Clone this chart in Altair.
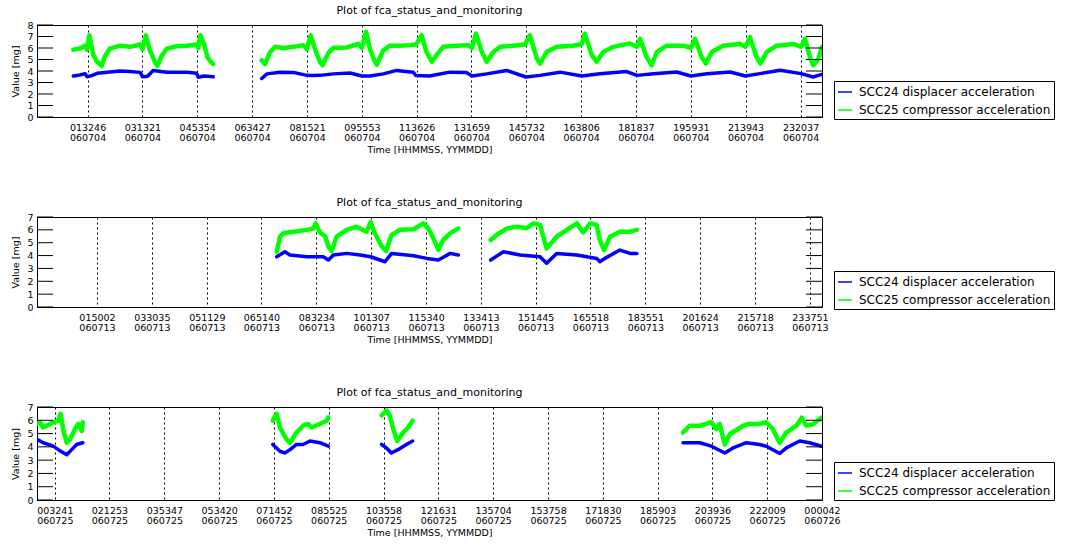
import json
import altair as alt
import pandas as pd

BLUE = "SCC24 displacer acceleration"
GREEN = "SCC25 compressor acceleration"
TITLE = "Plot of fca_status_and_monitoring"
FONT = "DejaVu Sans"

# ---------------- Panel 1 (060704) ----------------
p1_tick_labels = ["013246", "031321", "045354", "063427", "081521", "095553", "113626",
                  "131659", "145732", "163806", "181837", "195931", "213943", "232037"]
p1_tick_dates = ["060704"] * 14
p1_yticks = [0, 1, 2, 3, 4, 5, 6, 7, 8]

# (hour of day, value in mg), one list per continuous segment
p1_green_seg1 = [(1.11, 5.86), (1.31, 5.95), (1.47, 6.2), (1.53, 5.85), (1.60, 7.1), (1.72, 5.4),
                 (1.84, 4.8), (1.98, 4.45), (2.08, 5.3), (2.23, 5.95), (2.54, 6.2), (2.84, 6.1),
                 (3.15, 6.3), (3.23, 5.9), (3.33, 7.1), (3.45, 5.8), (3.61, 4.8), (3.68, 4.45),
                 (3.81, 5.3), (3.97, 5.95), (4.27, 6.15), (4.58, 6.2), (4.88, 6.3), (4.93, 6.0),
                 (5.00, 7.1), (5.11, 6.3), (5.21, 5.2), (5.31, 4.8), (5.39, 4.6)]
p1_green_seg2 = [(6.87, 4.93), (6.97, 4.6), (7.12, 5.6), (7.28, 6.1), (7.53, 6.0), (7.84, 6.1),
                 (8.14, 6.25), (8.25, 5.9), (8.37, 7.1), (8.50, 5.9), (8.65, 4.8), (8.73, 4.5),
                 (8.91, 5.6), (9.06, 6.0), (9.47, 6.05), (9.82, 6.35), (9.93, 6.0), (10.06, 7.4),
                 (10.18, 5.9), (10.33, 4.8), (10.39, 4.55), (10.59, 5.8), (10.79, 6.2), (11.10, 6.2),
                 (11.40, 6.25), (11.59, 6.3), (11.76, 7.1), (11.91, 5.65), (12.07, 4.8), (12.22, 5.4),
                 (12.42, 6.1), (12.83, 6.2), (13.19, 6.25), (13.30, 6.0), (13.42, 7.25), (13.60, 5.65),
                 (13.75, 4.8), (13.95, 5.65), (14.16, 6.1), (14.56, 6.2), (14.92, 6.3), (15.07, 7.1),
                 (15.28, 5.1), (15.38, 4.65), (15.58, 5.65), (15.89, 6.1), (16.40, 6.2), (16.66, 6.35),
                 (16.75, 7.25), (16.96, 5.4), (17.11, 4.8), (17.31, 5.65), (17.62, 6.1), (18.13, 6.4),
                 (18.34, 6.1), (18.44, 6.8), (18.64, 5.2), (18.79, 4.5), (18.95, 5.65), (19.25, 6.2),
                 (19.76, 6.2), (19.99, 6.0), (20.12, 6.8), (20.32, 5.2), (20.45, 4.65), (20.63, 5.65),
                 (20.98, 6.2), (21.49, 6.35), (21.66, 6.1), (21.80, 6.95), (22.00, 5.2), (22.12, 4.65),
                 (22.31, 5.65), (22.61, 6.2), (23.12, 6.35), (23.36, 6.1), (23.48, 6.8), (23.63, 5.2),
                 (23.73, 4.5), (23.88, 5.0), (24.0, 6.1)]
p1_blue_seg1 = [(1.11, 3.57), (1.31, 3.65), (1.47, 3.77), (1.53, 3.5), (1.67, 3.6), (1.84, 3.8),
                (2.23, 3.91), (2.54, 4.0), (2.84, 3.95), (3.15, 3.88), (3.23, 3.5), (3.38, 3.55),
                (3.55, 4.05), (3.97, 3.9), (4.58, 3.9), (4.88, 3.8), (4.93, 3.45), (5.11, 3.57),
                (5.39, 3.5)]
p1_blue_seg2 = [(6.87, 3.35), (7.03, 3.75), (7.43, 3.9), (7.84, 3.88), (8.25, 3.62), (8.41, 3.6),
                (8.65, 3.62), (9.06, 3.75), (9.57, 3.82), (9.93, 3.57), (10.18, 3.57), (10.59, 3.75),
                (10.99, 4.05), (11.50, 3.9), (11.59, 3.6), (12.0, 3.57), (12.62, 3.9), (13.13, 3.86),
                (13.30, 3.57), (13.75, 3.75), (14.36, 4.05), (14.95, 3.48), (15.38, 3.62), (15.99, 3.9),
                (16.66, 3.57), (17.21, 3.77), (18.03, 3.95), (18.34, 3.62), (18.85, 3.77), (19.56, 3.91),
                (19.99, 3.57), (20.48, 3.77), (21.19, 3.91), (21.66, 3.57), (22.10, 3.77), (22.72, 4.06),
                (23.36, 3.77), (23.73, 3.48), (23.88, 3.62), (24.0, 3.7)]

# ---------------- Panel 2 (060713) ----------------
p2_tick_labels = ["015002", "033035", "051129", "065140", "083234", "101307", "115340",
                  "133413", "151445", "165518", "183551", "201624", "215718", "233751"]
p2_tick_dates = ["060713"] * 14
p2_yticks = [0, 1, 2, 3, 4, 5, 6, 7]

p2_green_seg1 = [(7.33, 4.3), (7.43, 5.47), (7.53, 5.73), (7.84, 5.86), (8.25, 6.0), (8.45, 6.1),
                 (8.52, 6.5), (8.65, 5.8), (8.81, 5.5), (8.91, 4.7), (9.01, 4.35), (9.16, 5.47),
                 (9.47, 6.0), (9.77, 6.25), (10.08, 5.86), (10.20, 6.6), (10.33, 5.73), (10.54, 4.7),
                 (10.67, 4.35), (10.84, 5.6), (11.10, 6.0), (11.51, 6.05), (11.81, 6.5), (11.96, 6.12),
                 (12.12, 5.34), (12.27, 4.45), (12.42, 5.21), (12.63, 5.73), (12.88, 6.12)]
p2_green_seg2 = [(13.87, 5.21), (14.05, 5.6), (14.36, 6.1), (14.67, 6.25), (14.97, 6.12), (15.17, 6.5),
                 (15.38, 6.38), (15.48, 5.47), (15.58, 4.56), (15.89, 5.47), (16.20, 6.0), (16.50, 6.5),
                 (16.70, 5.8), (16.91, 6.5), (17.11, 6.38), (17.21, 5.21), (17.34, 4.43), (17.52, 5.47),
                 (17.82, 5.86), (18.13, 5.86), (18.34, 6.0)]
p2_blue_seg1 = [(7.33, 3.91), (7.58, 4.3), (7.73, 4.05), (8.25, 3.91), (8.75, 3.91), (8.91, 3.65),
                (9.06, 4.04), (9.47, 4.17), (9.88, 4.04), (10.20, 3.91), (10.64, 3.52), (10.84, 4.17),
                (11.30, 4.04), (11.51, 3.98), (11.92, 3.78), (12.27, 3.65), (12.63, 4.17), (12.88, 4.04)]
p2_blue_seg2 = [(13.87, 3.65), (14.26, 4.3), (14.77, 4.04), (15.38, 3.91), (15.58, 3.40), (15.89, 4.17),
                (16.50, 4.04), (17.11, 3.78), (17.21, 3.52), (17.36, 3.78), (17.82, 4.43), (18.13, 4.17),
                (18.34, 4.17)]

# ---------------- Panel 3 (060725) ----------------
p3_tick_labels = ["003241", "021253", "035347", "053420", "071452", "085525", "103558", "121631",
                  "135704", "153758", "171830", "185903", "203936", "222009", "000042"]
p3_tick_dates = ["060725"] * 14 + ["060726"]
p3_yticks = [0, 1, 2, 3, 4, 5, 6, 7]

p3_green_seg1 = [(0.0, 5.72), (0.09, 5.85), (0.19, 5.46), (0.40, 5.72), (0.50, 5.85), (0.65, 5.97),
                 (0.72, 6.49), (0.80, 5.33), (0.91, 4.31), (1.01, 4.56), (1.16, 5.33), (1.26, 5.72),
                 (1.37, 5.2), (1.40, 5.85)]
p3_green_seg2 = [(7.21, 5.97), (7.33, 6.49), (7.43, 5.46), (7.63, 4.56), (7.74, 4.31), (7.94, 5.08),
                 (8.14, 5.59), (8.30, 5.72), (8.40, 5.46), (8.65, 5.72), (8.86, 5.97), (8.91, 6.23)]
p3_green_seg3 = [(10.54, 6.36), (10.69, 6.74), (10.79, 6.36), (10.90, 5.33), (11.02, 4.44), (11.20, 5.08),
                 (11.35, 5.46), (11.49, 5.97)]
p3_green_seg4 = [(19.76, 5.08), (19.96, 5.59), (20.27, 5.59), (20.63, 5.85), (20.78, 5.33), (20.88, 5.72),
                 (21.04, 4.18), (21.19, 4.95), (21.60, 5.59), (21.75, 5.72), (22.10, 5.72), (22.31, 5.85),
                 (22.51, 5.33), (22.72, 4.3), (22.92, 5.08), (23.23, 5.59), (23.39, 6.2), (23.53, 5.6),
                 (23.73, 5.7), (24.0, 6.2)]
p3_blue_seg1 = [(0.0, 4.56), (0.19, 4.31), (0.50, 4.05), (0.65, 3.79), (0.91, 3.41), (1.06, 3.79),
                (1.21, 4.18), (1.40, 4.31)]
p3_blue_seg2 = [(7.21, 4.18), (7.43, 3.67), (7.58, 3.54), (7.74, 3.79), (7.94, 4.18), (8.14, 4.18),
                (8.35, 4.44), (8.65, 4.31), (8.91, 4.05)]
p3_blue_seg3 = [(10.54, 4.18), (10.69, 3.92), (10.84, 3.54), (11.04, 3.79), (11.30, 4.18), (11.49, 4.44)]
p3_blue_seg4 = [(19.76, 4.31), (20.27, 4.31), (20.63, 4.05), (21.04, 3.54), (21.29, 3.92), (21.70, 4.31),
                (22.10, 4.18), (22.31, 4.05), (22.72, 3.5), (22.92, 3.92), (23.33, 4.44), (23.63, 4.31),
                (24.0, 4.05)]


def to_frame(series_segments):
    rows = []
    for name, segs in series_segments:
        for i, seg in enumerate(segs):
            for t, v in seg:
                rows.append({"series": name, "seg": f"{name}-{i}", "t": t, "v": v})
    return pd.DataFrame(rows)


def make_panel(df, yticks, height, tick_labels, tick_dates, x_end, legend_y):
    width = 785
    secs = []
    for s, d in zip(tick_labels, tick_dates):
        sec = int(s[0:2]) * 3600 + int(s[2:4]) * 60 + int(s[4:6])
        if d != tick_dates[0]:
            sec += 86400
        secs.append(sec)
    tick_h = [round(s / 3600.0, 6) for s in secs]
    label_arr = [[s, d] for s, d in zip(tick_labels, tick_dates)]
    expr = f"{json.dumps(label_arr)}[indexof({json.dumps(tick_h)}, datum.value)]"

    ymax = yticks[-1]
    yscale = alt.Scale(domain=[0, ymax], nice=False, zero=True)
    yaxis = alt.Axis(values=yticks, ticks=False, grid=False, domain=False, labelPadding=4,
                     labelFontSize=9.5, title="Value [mg]", titleFontSize=9.5,
                     titleFontWeight="normal", titlePadding=6)

    lines = alt.Chart(df).mark_line(clip=True, strokeJoin="round", strokeCap="round").encode(
        x=alt.X("t:Q", scale=alt.Scale(domain=[0, x_end], nice=False, zero=False),
                axis=alt.Axis(values=tick_h, labelExpr=expr, grid=True, gridColor="black",
                              gridDash=[2, 3], gridWidth=1, gridOpacity=1, ticks=False,
                              domain=False, labelFlush=False, labelOverlap=False, labelAngle=0,
                              labelPadding=5, labelFontSize=9.5, labelLineHeight=10,
                              title="Time [HHMMSS, YYMMDD]", titleFontSize=9.5,
                              titleFontWeight="normal", titlePadding=3)),
        y=alt.Y("v:Q", scale=yscale, axis=yaxis),
        color=alt.Color("series:N",
                        scale=alt.Scale(domain=[BLUE, GREEN], range=["#0000ff", "#00ff00"]),
                        legend=alt.Legend(title=None, orient="none", legendX=797, legendY=legend_y,
                                          symbolType="stroke", symbolSize=196, symbolStrokeWidth=1.5,
                                          labelFontSize=12, labelFont=FONT, labelOffset=6,
                                          labelLimit=400, padding=3, rowPadding=4,
                                          strokeColor="black", fillColor="white")),
        detail="seg:N",
        strokeWidth=alt.StrokeWidth("series:N", scale=alt.Scale(domain=[BLUE, GREEN], range=[3.5, 4.5]),
                                    legend=None),
    )

    tdf = pd.DataFrame({"v": yticks})
    left_ticks = alt.Chart(tdf).mark_rule(color="black", strokeWidth=1).encode(
        y=alt.Y("v:Q", scale=yscale, axis=yaxis), x=alt.value(0), x2=alt.value(16))
    right_ticks = alt.Chart(tdf).mark_rule(color="black", strokeWidth=1).encode(
        y=alt.Y("v:Q", scale=yscale, axis=yaxis), x=alt.value(width - 16), x2=alt.value(width))

    return alt.layer(lines, left_ticks, right_ticks).properties(
        width=width, height=height,
        title=alt.TitleParams(TITLE, fontSize=11, fontWeight="normal", anchor="middle", offset=4,
                              font=FONT, color="black"))


df1 = to_frame([(BLUE, [p1_blue_seg1, p1_blue_seg2]), (GREEN, [p1_green_seg1, p1_green_seg2])])
df2 = to_frame([(BLUE, [p2_blue_seg1, p2_blue_seg2]), (GREEN, [p2_green_seg1, p2_green_seg2])])
df3 = to_frame([(BLUE, [p3_blue_seg1, p3_blue_seg2, p3_blue_seg3, p3_blue_seg4]),
                (GREEN, [p3_green_seg1, p3_green_seg2, p3_green_seg3, p3_green_seg4])])

c1 = make_panel(df1, p1_yticks, 92, p1_tick_labels, p1_tick_dates, 24.0, 56)
c2 = make_panel(df2, p2_yticks, 90, p2_tick_labels, p2_tick_dates, 24.0, 54)
c3 = make_panel(df3, p3_yticks, 93, p3_tick_labels, p3_tick_dates, 24.0117, 55)

chart = alt.vconcat(c1, c2, c3, spacing=41).resolve_legend(color="independent").configure(
    font=FONT, padding={"left": 10, "top": 4, "right": 0, "bottom": 0}
).configure_view(stroke="black", strokeWidth=1).configure_axis(
    labelFont=FONT, titleFont=FONT, labelColor="black", titleColor="black"
).configure_legend(labelColor="black")

chart.save("out.html", embed_options={"renderer": "svg", "actions": False})
